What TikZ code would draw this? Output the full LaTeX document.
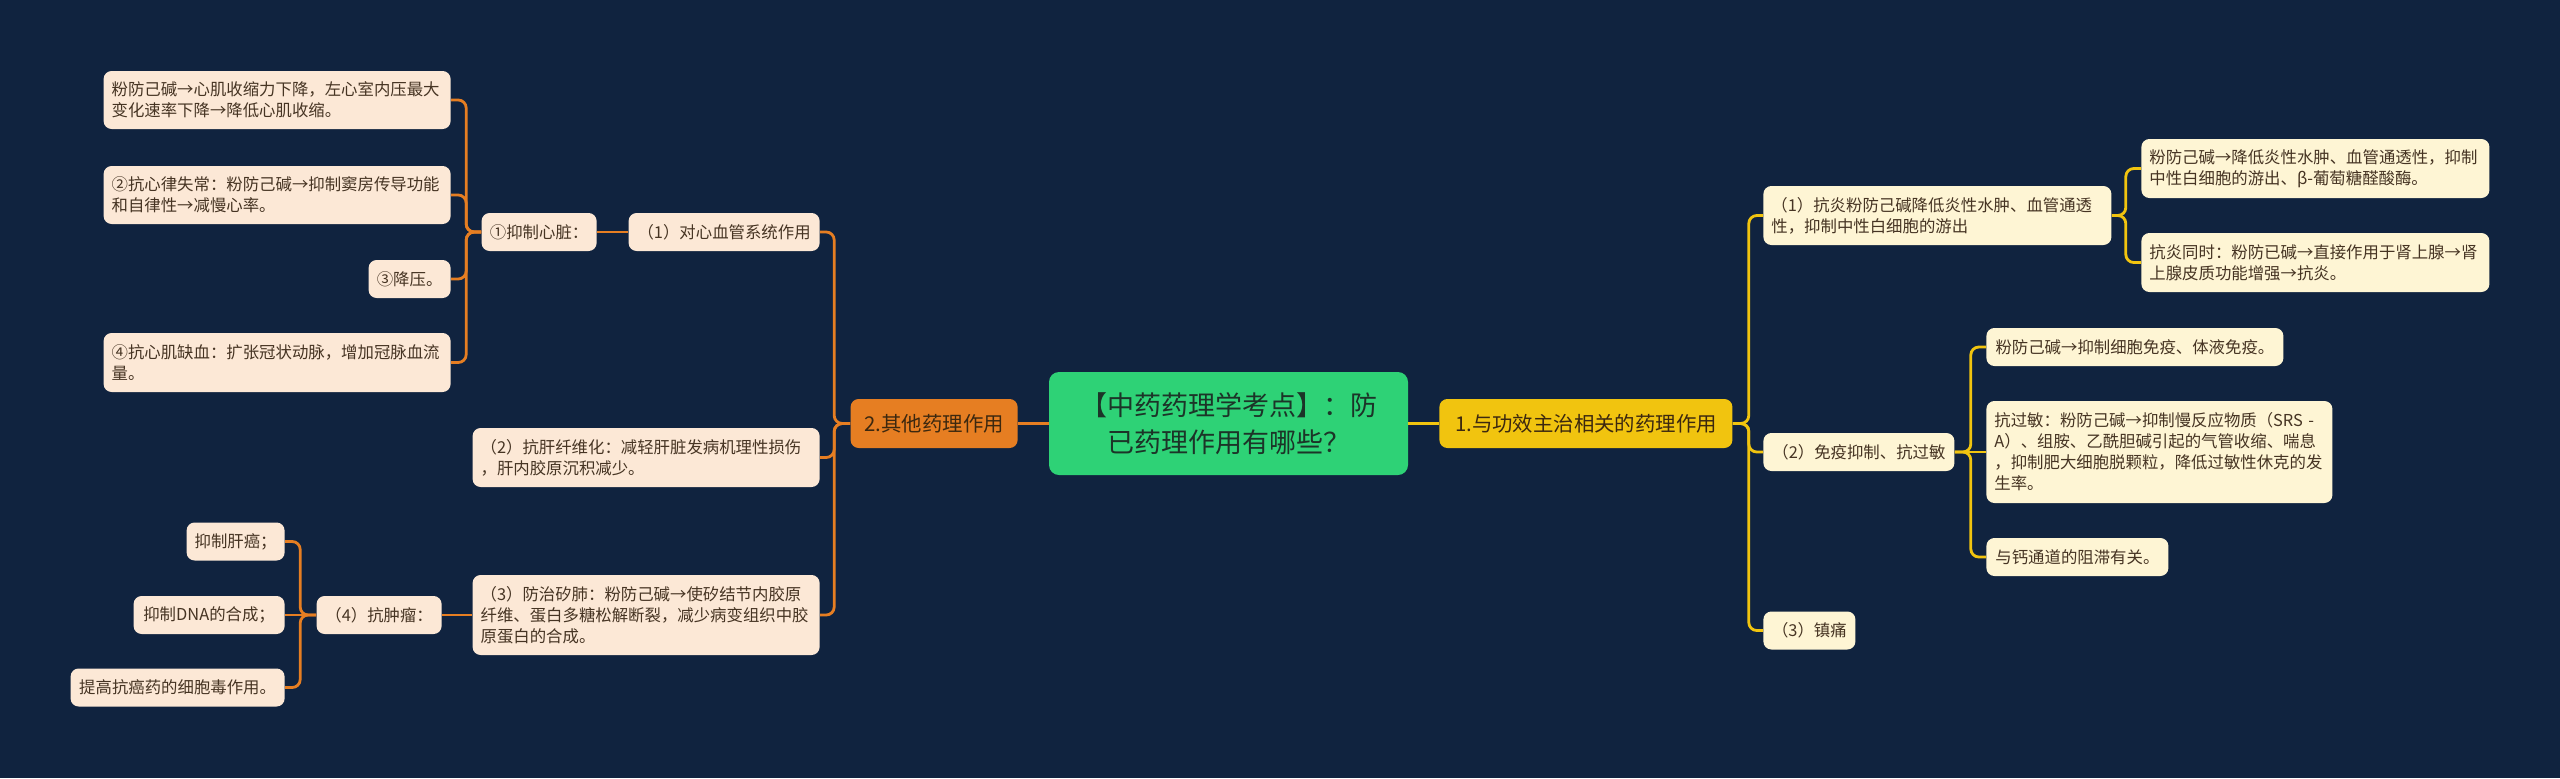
\documentclass[tikz,border=0pt]{standalone}
\usepackage{fontspec}
\setmainfont{Noto Sans CJK SC}
\usepackage{tikz}
\usetikzlibrary{positioning,calc}
\newcommand{\leaffont}{\fontsize{8.2}{10.5}\selectfont}
\newcommand{\catfont}{\fontsize{10.2}{12}\selectfont}
\newcommand{\rootfont}{\fontsize{13.5}{18.5}\selectfont}
\tikzset{
  basebox/.style={rounded corners=4pt, inner xsep=4pt, inner ysep=2pt,
                  font=\leaffont, text=leafink},
  lleaf/.style  ={basebox, fill=leafpeach, align=left, text width=#1},
  lleaf/.default=165.5pt,
  lshort/.style ={basebox, fill=leafpeach, align=center, minimum height=19pt},
  rleaf/.style  ={basebox, fill=leafcream, align=left, text width=#1},
  rleaf/.default=166pt,
  rshort/.style ={basebox, fill=leafcream, align=center, minimum height=19pt},
  catbox/.style ={basebox, font=\catfont, text=catink, minimum height=24.5pt},
  rootbox/.style={rounded corners=5pt, fill=rootgreen, text=rootink,
                  font=\rootfont, align=center, minimum width=179.5pt,
                  minimum height=51.5pt},
  lline/.style  ={draw=lineorange, line width=1.4pt, rounded corners=4pt},
  rline/.style  ={draw=lineyellow, line width=1.4pt, rounded corners=4pt},
}
\definecolor{bgnavy}     {RGB}{16,35,63}
\definecolor{rootgreen}  {RGB}{46,210,118}
\definecolor{rootink}    {RGB}{28,52,40}
\definecolor{mainyellow} {RGB}{241,196,15}
\definecolor{otherorange}{RGB}{230,126,34}
\definecolor{catink}     {RGB}{60,40,15}
\definecolor{leafpeach}  {RGB}{252,232,214}
\definecolor{leafcream}  {RGB}{254,245,212}
\definecolor{leafink}    {RGB}{70,52,35}
\definecolor{lineorange} {RGB}{230,126,34}
\definecolor{lineyellow} {RGB}{241,196,15}

\begin{document}
\begin{tikzpicture}[x=0.5pt,y=-0.5pt]
  \fill[bgnavy] (0,0) rectangle (2560,778);
  \useasboundingbox (0,0) rectangle (2560,778);
  % centre and the two branches
  \node[rootbox] (root) at (1228.5,423.5) {【中药药理学考点】：防\\已药理作用有哪些？};
  \node[catbox, fill=mainyellow, minimum width=146.5pt, anchor=west] (main) at (1439,423.5) {1.与功效主治相关的药理作用};
  \node[catbox, fill=otherorange, minimum width=83.5pt, anchor=east] (other) at (1018,423.5) {2.其他药理作用};
  % left side
  \node[lshort, minimum width=95.5pt, anchor=east] (cardio) at (820,232) {（1）对心血管系统作用};
  \node[lshort, minimum width=57.5pt, anchor=east] (heart) at (597,232) {①抑制心脏：};
  \node[lleaf, minimum height=29pt, anchor=east] (hcon) at (451,100) {粉防己碱→心肌收缩力下降，左心室内压最大\\变化速率下降→降低心肌收缩。};
  \node[lleaf, minimum height=29pt, anchor=east] (harr) at (451,195) {②抗心律失常：粉防己碱→抑制窦房传导功能\\和自律性→减慢心率。};
  \node[lshort, minimum width=41pt, anchor=east] (hbp) at (451,279) {③降压。};
  \node[lleaf, minimum height=29.5pt, anchor=east] (hisch) at (451,362.5) {④抗心肌缺血：扩张冠状动脉，增加冠脉血流\\量。};
  \node[lleaf, minimum height=29.5pt, anchor=east] (liver) at (820,457.5) {（2）抗肝纤维化：减轻肝脏发病机理性损伤\\，肝内胶原沉积减少。};
  \node[lleaf, minimum height=40pt, anchor=east] (silic) at (820,615) {（3）防治矽肺：粉防己碱→使矽结节内胶原\\纤维、蛋白多糖松解断裂，减少病变组织中胶\\原蛋白的合成。};
  \node[lshort, minimum width=62.5pt, anchor=east] (tumor) at (442,615) {（4）抗肿瘤：};
  \node[lshort, minimum width=49pt, anchor=east] (tliv) at (285,541.5) {抑制肝癌；};
  \node[lshort, minimum width=75.5pt, anchor=east] (tdna) at (285,615) {抑制DNA的合成；};
  \node[lshort, minimum width=107pt, anchor=east] (tcyt) at (285,687.5) {提高抗癌药的细胞毒作用。};
  % right side
  \node[rleaf, minimum height=29.5pt, anchor=west] (anti) at (1763,215.5) {（1）抗炎粉防己碱降低炎性水肿、血管通透\\性，抑制中性白细胞的游出};
  \node[rleaf, minimum height=29.5pt, anchor=west] (antia) at (2141,168.5) {粉防己碱→降低炎性水肿、血管通透性，抑制\\中性白细胞的游出、β-葡萄糖醛酸酶。};
  \node[rleaf, minimum height=29.5pt, anchor=west] (antib) at (2141,262.5) {抗炎同时：粉防已碱→直接作用于肾上腺→肾\\上腺皮质功能增强→抗炎。};
  \node[rshort, minimum width=95.5pt, anchor=west] (immu) at (1763,452) {（2）免疫抑制、抗过敏};
  \node[rshort, minimum width=148.5pt, anchor=west] (immua) at (1986,347) {粉防己碱→抑制细胞免疫、体液免疫。};
  \node[rleaf=165pt, minimum height=51pt, anchor=west] (immub) at (1986,452) {抗过敏：粉防己碱→抑制慢反应物质（SRS~-\\A）、组胺、乙酰胆碱引起的气管收缩、喘息\\，抑制肥大细胞脱颗粒，降低过敏性休克的发\\生率。};
  \node[rshort, minimum width=91pt, anchor=west] (immuc) at (1986,557) {与钙通道的阻滞有关。};
  \node[rshort, minimum width=46pt, anchor=west] (pain) at (1763,630.5) {（3）镇痛};
  % connectors, left
  \draw[lline] (root) -- (other);
  \draw[lline] (other.west) -- ++(-16,0) |- (cardio.east);
  \draw[lline] (other.west) -- ++(-16,0) |- (liver.east);
  \draw[lline] (other.west) -- ++(-16,0) |- (silic.east);
  \draw[lline] (cardio) -- (heart);
  \draw[lline] (heart.west) -- ++(-15,0) |- (hcon.east);
  \draw[lline] (heart.west) -- ++(-15,0) |- (harr.east);
  \draw[lline] (heart.west) -- ++(-15,0) |- (hbp.east);
  \draw[lline] (heart.west) -- ++(-15,0) |- (hisch.east);
  \draw[lline] (silic) -- (tumor);
  \draw[lline] (tumor.west) -- ++(-16,0) |- (tliv.east);
  \draw[lline] (tumor) -- (tdna);
  \draw[lline] (tumor.west) -- ++(-16,0) |- (tcyt.east);
  % connectors, right
  \draw[rline] (root) -- (main);
  \draw[rline] (main.east) -- ++(16,0) |- (anti.west);
  \draw[rline] (main.east) -- ++(16,0) |- (immu.west);
  \draw[rline] (main.east) -- ++(16,0) |- (pain.west);
  \draw[rline] (anti.east) -- ++(14,0) |- (antia.west);
  \draw[rline] (anti.east) -- ++(14,0) |- (antib.west);
  \draw[rline] (immu.east) -- ++(16,0) |- (immua.west);
  \draw[rline] (immu) -- (immub);
  \draw[rline] (immu.east) -- ++(16,0) |- (immuc.west);
\end{tikzpicture}
\end{document}
